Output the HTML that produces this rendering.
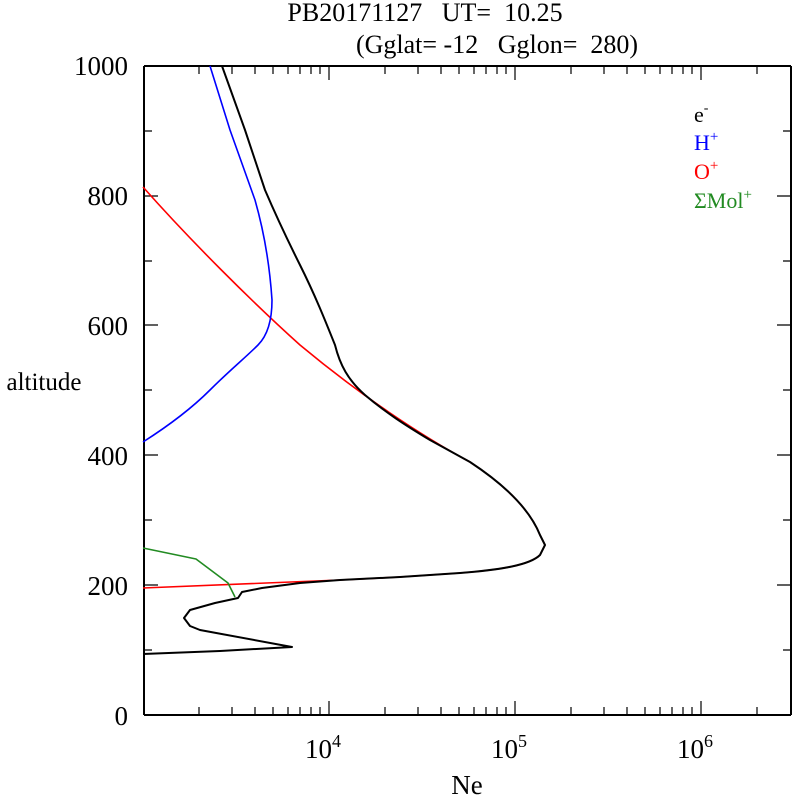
<!DOCTYPE html>
<html><head><style>body{margin:0;background:#fff}svg{display:block}text{font-family:"Liberation Serif",serif}</style></head><body>
<svg width="792" height="795" viewBox="0 0 792 795" xmlns="http://www.w3.org/2000/svg">
<g font-size="26" text-anchor="middle" fill="#000">
<text x="425" y="21">PB20171127&#160;&#160;&#160;UT=&#160;&#160;10.25</text>
<text x="497" y="53">(Gglat=&#160;-12&#160;&#160;&#160;Gglon=&#160;&#160;280)</text>
</g>
<g font-size="27" text-anchor="end">
<text x="128" y="75">1000</text><text x="128" y="205">800</text><text x="128" y="335">600</text><text x="128" y="465">400</text><text x="128" y="595">200</text><text x="128" y="725">0</text>
</g>
<text x="44" y="390" font-size="25" text-anchor="middle">altitude</text>
<g font-size="27" text-anchor="middle">
<text x="323" y="758">10<tspan font-size="18" dy="-11">4</tspan></text>
<text x="509" y="758">10<tspan font-size="18" dy="-11">5</tspan></text>
<text x="695" y="758">10<tspan font-size="18" dy="-11">6</tspan></text>
<text x="467" y="794">Ne</text>
</g>
<g stroke="#000" stroke-width="1.2">
<path d="M144 66V715M791 66V715M144 66H791M144 715H791" stroke-width="2"/>
<path d="M144 131h8M144 196h14M144 261h8M144 325h14M144 390h8M144 455h14M144 520h8M144 585h14M144 650h8
M791 131h-8M791 196h-14M791 261h-8M791 325h-14M791 390h-8M791 455h-14M791 520h-8M791 585h-14M791 650h-8"/>
<path id="t" d="M199 715v-8M232 715v-8M255 715v-8M273 715v-8M288 715v-8M300 715v-8M311 715v-8M320 715v-8M329 715v-14
M385 715v-8M418 715v-8M441 715v-8M459 715v-8M474 715v-8M486 715v-8M497 715v-8M506 715v-8M515 715v-14
M571 715v-8M604 715v-8M627 715v-8M645 715v-8M660 715v-8M672 715v-8M683 715v-8M692 715v-8M701 715v-14M757 715v-8"/>
<use href="#t" transform="translate(0,781) scale(1,-1)"/>
</g>
<g fill="none" stroke-width="1.6" stroke-linejoin="round">
<path stroke="#ff0000" d="M143 187C190 240 250 300 300 345C360 395 420 435 470 462C505 485 530 510 540 535L545 545L540 555C530 565 500 570 460 573L400 577L340 580L143 588"/>
<path stroke="#0000ff" d="M210 66L230 130L255 200C265 235 270 270 272 300C272 320 268 335 258 345C245 358 230 370 210 390C190 410 165 428 143 442"/>
<path stroke="#228b22" d="M143 548L196 559L228 583L235 597"/>
<path stroke="#000" stroke-width="2" d="M222 66L245 130L265 190C280 225 290 245 300 265C315 295 325 320 335 345C340 365 348 380 365 395C385 412 405 425 430 440L470 462C505 485 530 510 540 535L545 545L540 555C530 565 500 570 460 573L400 577L340 580L300 583L262 588L242 592L238 598L215 603L190 610L184 618L190 626L200 630L292 647L220 651L143 654"/>
</g>
<g font-size="22">
<text x="694" y="122">e<tspan font-size="14" dy="-10">-</tspan></text>
<text x="694" y="150" fill="#0000ff">H<tspan font-size="15" dy="-9">+</tspan></text>
<text x="694" y="179" fill="#ff0000">O<tspan font-size="15" dy="-9">+</tspan></text>
<text x="694" y="208" fill="#228b22">ΣMol<tspan font-size="15" dy="-9">+</tspan></text>
</g>
</svg>
</body></html>
